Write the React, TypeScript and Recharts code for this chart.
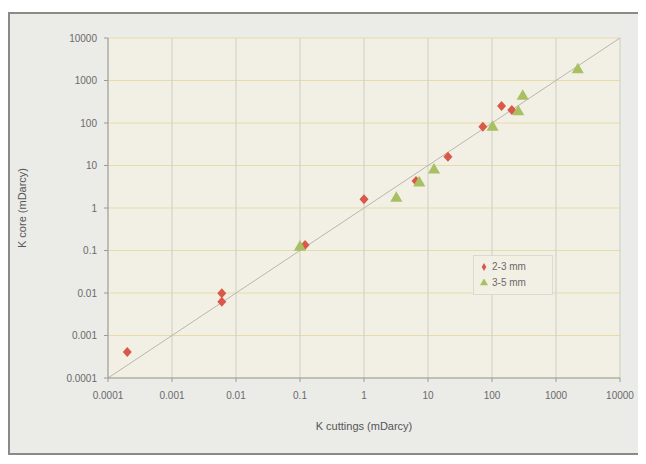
import {
  CartesianGrid,
  Legend,
  ReferenceLine,
  Scatter,
  ScatterChart,
  XAxis,
  YAxis,
  ZAxis,
} from "recharts";

// K cuttings vs K core, both in mDarcy.
const small23 = [
  { x: 0.0002, y: 0.00041 },
  { x: 0.006, y: 0.0098 },
  { x: 0.006, y: 0.0062 },
  { x: 0.12, y: 0.135 },
  { x: 1.0, y: 1.6 },
  { x: 6.5, y: 4.3 },
  { x: 20.5, y: 16 },
  { x: 72, y: 82 },
  { x: 141, y: 250 },
  { x: 204, y: 203 },
];

const large35 = [
  { x: 0.1, y: 0.12 },
  { x: 3.2, y: 1.7 },
  { x: 7.3, y: 3.9 },
  { x: 12.4, y: 7.8 },
  { x: 102, y: 79 },
  { x: 257, y: 185 },
  { x: 302, y: 427 },
  { x: 2190, y: 1780 },
];

const decades = [0.0001, 0.001, 0.01, 0.1, 1, 10, 100, 1000, 10000];

const font = "'Liberation Sans', Arial, sans-serif";
const tickStyle = { fill: "#6a6a6a", fontSize: 10, fontFamily: font };

// Excel-style compact diamond
function Diamond(props: any) {
  const { cx, cy, fill } = props;
  if (cx == null || cy == null) return null;
  return (
    <polygon
      points={`${cx},${cy - 5} ${cx + 4.5},${cy} ${cx},${cy + 5} ${cx - 4.5},${cy}`}
      fill={fill}
    />
  );
}

export default function App() {
  return (
    <div
      style={{
        width: 628,
        height: 439,
        marginTop: 4,
        border: "2px solid #8a8a88",
        background: "#ebebe8",
        position: "relative",
      }}
    >
      <ScatterChart
        width={628}
        height={439}
        margin={{ top: 24, right: 18, bottom: 15, left: 0 }}
      >
        <CartesianGrid fill="#f2f0e4" stroke="#e6dcaa" vertical={false} />
        <CartesianGrid stroke="#cfcdc4" horizontal={false} />
        <XAxis
          type="number"
          dataKey="x"
          scale="log"
          domain={[0.0001, 10000]}
          ticks={decades}
          allowDataOverflow
          tick={tickStyle}
          tickLine={{ stroke: "#9a9a9a" }}
          tickSize={4}
          tickMargin={10}
          axisLine={{ stroke: "#9a9a9a" }}
          tickFormatter={(v) => String(v)}
          height={60}
          label={{
            value: "K cuttings (mDarcy)",
            position: "insideBottom",
            offset: 8,
            style: { fill: "#555", fontSize: 11, fontFamily: font },
          }}
        />
        <YAxis
          type="number"
          dataKey="y"
          scale="log"
          domain={[0.0001, 10000]}
          ticks={decades}
          allowDataOverflow
          tick={tickStyle}
          tickLine={{ stroke: "#9a9a9a" }}
          tickSize={4}
          tickMargin={7}
          axisLine={{ stroke: "#9a9a9a" }}
          tickFormatter={(v) => String(v)}
          width={98}
          label={{
            value: "K core (mDarcy)",
            angle: -90,
            position: "insideLeft",
            offset: 12,
            style: { fill: "#555", fontSize: 11, fontFamily: font, textAnchor: "middle" },
          }}
        />
        <ZAxis range={[40, 40]} />
        <ReferenceLine
          segment={[
            { x: 0.0001, y: 0.0001 },
            { x: 10000, y: 10000 },
          ]}
          stroke="#b8b6ae"
          strokeWidth={1}
        />
        <Scatter
          name="2-3 mm"
          data={small23}
          shape={<Diamond />}
          legendType="diamond"
          fill="#d9584a"
          isAnimationActive={false}
        />
        <Scatter
          name="3-5 mm"
          data={large35}
          shape="triangle"
          legendType="triangle"
          fill="#a9c062"
          isAnimationActive={false}
        />
        <Legend
          layout="vertical"
          align="center"
          verticalAlign="middle"
          iconSize={8}
          wrapperStyle={{
            left: 463,
            top: 241,
            width: 72,
            background: "#f2f0e4",
            border: "1px solid #dcdad0",
            padding: "3px 0 3px 6px",
            fontFamily: font,
            fontSize: 10,
            lineHeight: "16px",
          }}
          formatter={(value) => <span style={{ color: "#6a6a6a" }}>{value}</span>}
        />
      </ScatterChart>
    </div>
  );
}
